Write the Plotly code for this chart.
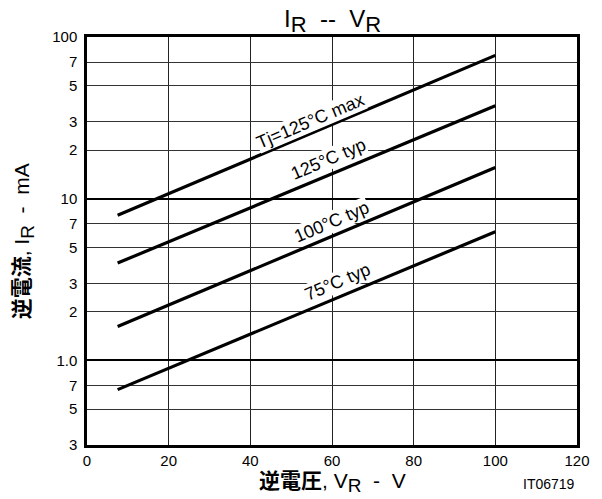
import math
import plotly.graph_objects as go

# Data
v_start_end = [7.5, 100]
ir_125_max = [7.9, 77]
ir_125_typ = [4.0, 37.6]
ir_100_typ = [1.62, 15.6]
ir_75_typ = [0.66, 6.25]

series_labels = ["Tj=125°C max", "125°C typ", "100°C typ", "75°C typ"]
label_x = [54.8, 59.2, 59.8, 61.3]
label_y = [30.1, 17.5, 7.2, 3.05]

y_tickvals = [0.3, 0.5, 0.7, 1, 2, 3, 5, 7, 10, 20, 30, 50, 70, 100]
y_ticktext = ["3", "5", "7", "1.0", "2", "3", "5", "7", "10", "2", "3", "5", "7", "100"]
x_tickvals = [0, 20, 40, 60, 80, 100, 120]

FONT = "Liberation Sans, Arial, Noto Sans CJK JP"

fig = go.Figure()
for ys in [ir_125_max, ir_125_typ, ir_100_typ, ir_75_typ]:
    fig.add_trace(go.Scatter(x=v_start_end, y=ys, mode="lines",
                             line=dict(color="black", width=3.2), showlegend=False,
                             hoverinfo="skip"))

for txt, lx, ly in zip(series_labels, label_x, label_y):
    fig.add_annotation(x=lx, y=math.log10(ly), text=txt, showarrow=False,
                       textangle=-23, font=dict(size=18, color="black", family=FONT),
                       bgcolor="white", borderpad=0)

# decade grid lines (thicker) via overlay axis
fig.add_trace(go.Scatter(x=[0], y=[1], yaxis="y2", mode="markers",
                         marker=dict(opacity=0), showlegend=False, hoverinfo="skip"))

sub = lambda s, px: '<sub><span style="font-size:%dpx">%s</span></sub>' % (px, s)

fig.update_layout(
    width=602, height=499,
    margin=dict(l=87, r=25, t=37, b=54),
    paper_bgcolor="white", plot_bgcolor="white",
    font=dict(family=FONT, color="black"),
    title=dict(text="I" + sub("R", 22) + "  --  V" + sub("R", 22), x=0.5525,
               xanchor="center", y=0.962, yanchor="middle",
               font=dict(size=24, color="black")),
    xaxis=dict(range=[0, 120], tickvals=x_tickvals, showgrid=True,
               gridcolor="#222", gridwidth=1, showline=True, linecolor="black",
               linewidth=2.5, mirror=True, ticks="", zeroline=False,
               tickfont=dict(size=15), title=None),
    yaxis=dict(type="log", range=[math.log10(0.3), 2], tickvals=y_tickvals,
               ticktext=y_ticktext, showgrid=True, gridcolor="#333", gridwidth=1,
               showline=True, linecolor="black", linewidth=2.5, mirror=True,
               ticks="", zeroline=False, tickfont=dict(size=15), ticklabelstandoff=4),
    yaxis2=dict(type="log", range=[math.log10(0.3), 2], overlaying="y",
                tickvals=[1, 10], showticklabels=False, showgrid=True,
                gridcolor="black", gridwidth=2, showline=False, ticks=""),
)

fig.add_annotation(xref="paper", yref="paper", x=0.5, y=-0.055, xanchor="center",
                   yanchor="top", showarrow=False,
                   text="<b>逆電圧</b>, V" + sub("R", 19) + "  -  V",
                   font=dict(size=21, color="black", family=FONT))
fig.add_annotation(xref="paper", yref="paper", x=-0.13, y=0.5, xanchor="center",
                   yanchor="middle", showarrow=False, textangle=-90,
                   text="<b>逆電流</b>, I" + sub("R", 19) + "  -  mA",
                   font=dict(size=21, color="black", family=FONT))
fig.add_annotation(xref="paper", yref="paper", x=1.0, y=-0.07, xanchor="right",
                   yanchor="top", showarrow=False, text="IT06719",
                   font=dict(size=14, color="black", family=FONT))

fig.write_html("out.html", config={"displayModeBar": False},
               post_script="document.body.style.margin='0';document.body.style.overflow='hidden';")
